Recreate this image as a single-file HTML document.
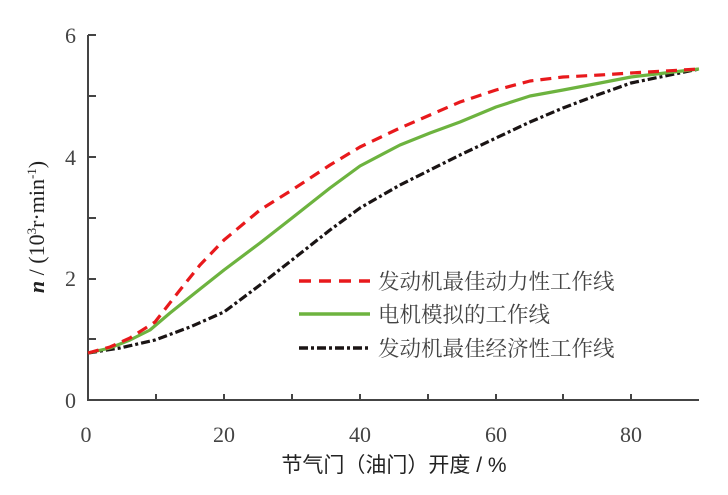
<!DOCTYPE html>
<html><head><meta charset="utf-8"><style>
body{margin:0;background:#fff;width:728px;height:490px;overflow:hidden}
svg text{font-family:"Liberation Serif","Noto Serif CJK SC",serif;fill:#444}
.cn{font-family:"Liberation Sans","Noto Sans CJK SC",sans-serif;fill:#222}
</style></head><body>
<svg width="728" height="490" viewBox="0 0 728 490" xmlns="http://www.w3.org/2000/svg">
<g stroke="#444" stroke-width="2" fill="none">
<path d="M88,35 V400 H699"/>
<path d="M88,35h8M88,96h8M88,157h8M88,218h8M88,279h8M88,339h8"/>
<path d="M156,400v-6M224,400v-6M292,400v-6M360,400v-6M428,400v-6M496,400v-6M563,400v-6M631,400v-6"/>
</g>
<g font-size="22" text-anchor="end">
<text x="76" y="43">6</text><text x="76" y="165">4</text><text x="76" y="286">2</text><text x="76" y="408">0</text>
</g>
<g font-size="22" text-anchor="middle">
<text x="86" y="442">0</text><text x="224" y="442">20</text><text x="360" y="442">40</text><text x="496" y="442">60</text><text x="631" y="442">80</text>
</g>
<text class="cn" x="394" y="472" font-size="21" text-anchor="middle">节气门（油门）开度 / %</text>
<text transform="translate(44,227) rotate(-90)" font-size="22" text-anchor="middle" style="fill:#222"><tspan font-style="italic" font-weight="bold">n</tspan> / (10<tspan font-size="13" dy="-8">3</tspan><tspan dy="8">r·min</tspan><tspan font-size="13" dy="-8">-1</tspan><tspan dy="8">)</tspan></text>
<g fill="none" stroke-width="3.2" stroke-linejoin="round">
<polyline stroke="#1a1414" stroke-dasharray="9,3,3,3" points="88,353 120,348 155,340 190,327 224,312 260,285 292,260 330,230 360,208 400,185 430,170 460,155 496,138 530,122 563,108 600,94 631,83 665,76 699,69"/>
<polyline stroke="#6db33f" points="88,353 110,348 130,340 150,330 170,313 195,293 224,270 260,243 292,218 330,188 360,166 400,145 430,133 460,122 496,107 530,96 563,90 600,83 631,77 665,73 699,69"/>
<polyline stroke="#e8191c" stroke-dasharray="11,7" points="88,353 110,347 130,338 155,322 180,290 200,265 224,240 260,210 292,190 330,165 360,147 400,128 430,115 460,102 496,90 530,81 563,77 600,75 631,73 665,71 699,69"/>
</g>
<g stroke-width="3.5">
<line x1="299" y1="281" x2="370" y2="281" stroke="#e8191c" stroke-dasharray="12,8"/>
<line x1="299" y1="314" x2="370" y2="314" stroke="#6db33f"/>
<line x1="299" y1="348" x2="370" y2="348" stroke="#1a1414" stroke-dasharray="9,3,3,3"/>
</g>
<g class="cn" font-size="21.5">
<text x="378" y="289">发动机最佳动力性工作线</text>
<text x="378" y="322">电机模拟的工作线</text>
<text x="378" y="356">发动机最佳经济性工作线</text>
</g>
</svg>
</body></html>
